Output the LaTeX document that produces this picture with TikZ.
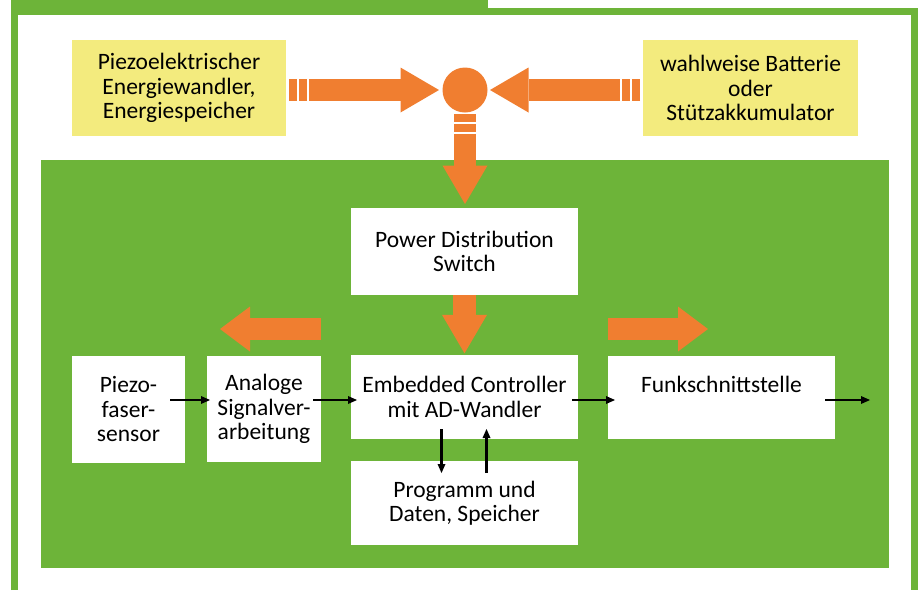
\documentclass[tikz,border=0pt]{standalone}
\usepackage{fontspec}
\setmainfont{Carlito}
\usepackage{tikz}
\usetikzlibrary{arrows.meta,positioning,calc}
\definecolor{leaf}{RGB}{109,180,57}
\definecolor{orng}{RGB}{240,126,48}
\definecolor{paleyellow}{RGB}{243,235,126}

\begin{document}
\begin{tikzpicture}[x=1pt, y=-1pt, font=\fontsize{23.5pt}{24.5pt}\selectfont]
\tikzstyle{block}=[fill=white, inner sep=2pt, outer sep=0pt, align=center, minimum width=227pt]
\tikzstyle{source}=[block, fill=paleyellow, minimum width=214pt, minimum height=96pt]
\tikzstyle{hub}=[circle, fill=orng, minimum size=45pt, inner sep=0pt, outer sep=0pt]
\tikzstyle{power}=[draw=orng, line width=22.7pt, -{Triangle[length=38.5pt, width=45pt, line width=0pt]}]
\tikzstyle{powerout}=[draw=orng, line width=22.7pt, -{Triangle[length=30pt, width=45pt, line width=0pt]}]
\tikzstyle{barred}=[dash pattern=on 7.7pt off 2.5pt on 7.7pt off 2pt on 1000pt off 10pt]
\tikzstyle{sig}=[draw=black, line width=2.3pt, -{Triangle[length=9pt, width=8pt, line width=0pt]}]
\useasboundingbox (0,0) rectangle (920,590);

% frame and background panel
\fill[leaf] (10.6,0) rectangle (488,15);
\draw[leaf, line width=7.4pt] (14.4,590) |- (914.6,11.7) -- (914.6,590);
\fill[leaf] (41,160) rectangle (889,568);

% supply side
\node[source] (src) at (179,88) {Piezoelektrischer\\Energiewandler,\\Energiespeicher};
\node[source, minimum width=215pt] (bat) at (750.5,88) {wahlweise Batterie\\oder\\Stützakkumulator};
\node[hub] (hub) at (465,90) {};

% blocks
\node[block, minimum height=84pt] (ctrl) at (464.5,397) {Embedded Controller\\mit AD-Wandler};
\node[block, minimum height=87pt] (pds) [above=60pt of ctrl] {Power Distribution\\Switch};
\node[block, minimum height=84pt] (mem) [below=22pt of ctrl] {Programm und\\Daten, Speicher};
\node[block, minimum height=83pt] (radio) [right=30pt of ctrl] {Funkschnittstelle\\\mbox{}};
\node[block, minimum width=114pt, minimum height=106pt] (ana) [below left=1pt and 30pt of ctrl.north west] {Analoge\\Signalver-\\arbeitung};
\node[block, minimum width=113pt, minimum height=107pt] (sensor) [left=22pt of ana] {Piezo-\\faser-\\sensor};

% energy flow
\draw[power, barred, shorten >=3.5pt] ($(src.east |- hub)+(3,0)$) -- (hub.west);
\draw[power, barred, shorten >=2.5pt] ($(bat.west |- hub)+(-3,0)$) -- (hub.east);
\draw[power, barred, shorten >=4pt] ($(hub.south)+(0,1.5)$) -- (hub.south |- pds.north);
\draw[power, shorten >=1.7pt] (pds.south) -- (ctrl.north);
\coordinate (sigout) at (220,329);
\coordinate (rfout) at (708,329);
\draw[powerout] (ana.east |- sigout) -- (sigout);
\draw[powerout] (radio.west |- rfout) -- (rfout);

% signal path
\coordinate (row) at ([yshift=-3pt]ctrl.center);
\draw[sig] ($(sensor.east |- row)+(-15,0)$) -- ($(ana.west |- row)+(3,0)$);
\draw[sig] ($(ana.east |- row)+(-8,0)$) -- ($(ctrl.west |- row)+(6,0)$);
\draw[sig] ($(ctrl.east |- row)+(-6,0)$) -- ($(radio.west |- row)+(7,0)$);
\draw[sig] ($(radio.east |- row)+(-10,0)$) -- ++(45,0);
\draw[sig] ([shift={(-23pt,10pt)}]ctrl.south) -- ([shift={(-23pt,-12pt)}]mem.north);
\draw[sig] ([shift={(22pt,-12pt)}]mem.north) -- ([shift={(22pt,10pt)}]ctrl.south);
\end{tikzpicture}
\end{document}
